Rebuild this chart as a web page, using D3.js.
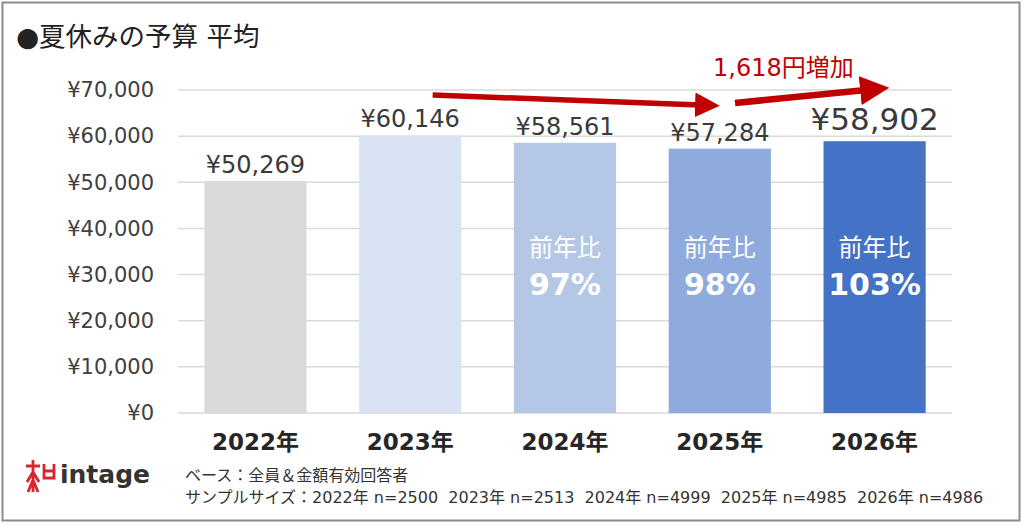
<!DOCTYPE html>
<html>
<head>
<meta charset="utf-8">
<script src="https://cdn.jsdelivr.net/npm/d3@7"></script>
<style>
  body { margin: 0; background: #fff; }
  text { font-family: "DejaVu Sans", "Noto Sans CJK JP", sans-serif; }
</style>
</head>
<body>
<div id="chart"></div>
<script>
// データ
var years = ["2022年", "2023年", "2024年", "2025年", "2026年"];
var budgets = [50269, 60146, 58561, 57284, 58902];
var ratios = [null, null, "97%", "98%", "103%"];
var barColors = ["#d9d9d9", "#dae3f3", "#b4c7e7", "#8faadc", "#4472c4"];
var yTicks = [0, 10000, 20000, 30000, 40000, 50000, 60000, 70000];
var sampleSizes = ["2022年 n=2500", "2023年 n=2513", "2024年 n=4999", "2025年 n=4985", "2026年 n=4986"];

var W = 1024, H = 526;
var svg = d3.select("#chart").append("svg")
    .attr("width", W).attr("height", H);

// 枠
svg.append("rect")
    .attr("x", 2.5).attr("y", 2.5)
    .attr("width", 1017).attr("height", 518)
    .attr("fill", "#fff").attr("stroke", "#8c8c8c").attr("stroke-width", 2);

// タイトル
svg.append("text")
    .attr("x", 16).attr("y", 46)
    .attr("font-size", 26.5).attr("fill", "#222")
    .attr("font-family", "'Noto Sans CJK JP', sans-serif")
    .text("●夏休みの予算 平均");

var x = d3.scaleBand().domain(years).range([178, 952]).paddingInner(0.34).paddingOuter(0.17);
var y = d3.scaleLinear().domain([0, 70000]).range([413, 90]);

// グリッド線
svg.selectAll(".grid").data(yTicks).enter().append("line")
    .attr("x1", 178).attr("x2", 952)
    .attr("y1", function(d) { return y(d); })
    .attr("y2", function(d) { return y(d); })
    .attr("stroke", "#d9d9d9").attr("stroke-width", 1.5);

// Y軸
var yAxis = svg.append("g")
    .attr("transform", "translate(157,0)")
    .call(d3.axisLeft(y).tickValues(yTicks).tickSize(0)
        .tickFormat(function(d) { return "¥" + d3.format(",")(d); }));
yAxis.select(".domain").remove();
yAxis.selectAll("text")
    .attr("font-size", 21).attr("fill", "#404040")
    .attr("font-family", "'DejaVu Sans', sans-serif");

// 棒
svg.selectAll(".bar").data(years).enter().append("rect")
    .attr("x", function(d) { return x(d); })
    .attr("y", function(d, i) { return y(budgets[i]); })
    .attr("width", x.bandwidth())
    .attr("height", function(d, i) { return y(0) - y(budgets[i]); })
    .attr("fill", function(d, i) { return barColors[i]; });

// 値ラベル
svg.selectAll(".val").data(years).enter().append("text")
    .attr("x", function(d) { return x(d) + x.bandwidth() / 2; })
    .attr("y", function(d, i) { return y(budgets[i]) - (i === 4 ? 11 : 8); })
    .attr("text-anchor", "middle")
    .attr("font-size", function(d, i) { return i === 4 ? 31 : 24; })
    .attr("fill", "#3a3a3a")
    .text(function(d, i) { return "¥" + d3.format(",")(budgets[i]); });

// 前年比
years.forEach(function(d, i) {
    if (!ratios[i]) return;
    var cx = x(d) + x.bandwidth() / 2;
    svg.append("text")
        .attr("x", cx).attr("y", 256)
        .attr("text-anchor", "middle")
        .attr("font-size", 24).attr("fill", "#fff")
        .attr("font-family", "'Noto Sans CJK JP', sans-serif")
        .text("前年比");
    svg.append("text")
        .attr("x", cx).attr("y", 295)
        .attr("text-anchor", "middle")
        .attr("font-size", 30).attr("font-weight", "bold").attr("fill", "#fff")
        .text(ratios[i]);
});

// X軸ラベル
var xAxis = svg.append("g")
    .attr("transform", "translate(0,413)")
    .call(d3.axisBottom(x).tickSize(0));
xAxis.select(".domain").remove();
xAxis.selectAll("text")
    .attr("dy", 0).attr("y", 37)
    .attr("font-size", 23).attr("font-weight", "bold").attr("fill", "#262626")
    .attr("font-family", "'DejaVu Sans', 'Noto Sans CJK JP', sans-serif");

// 矢印
var defs = svg.append("defs");
defs.append("marker")
    .attr("id", "arr").attr("viewBox", "0 0 10 10")
    .attr("refX", 2).attr("refY", 5)
    .attr("markerWidth", 4.5).attr("markerHeight", 4.5)
    .attr("orient", "auto")
    .append("path").attr("d", "M0,0 L10,5 L0,10 z").attr("fill", "#c00000");

svg.append("line")
    .attr("x1", x("2023年") + x.bandwidth() * 0.72).attr("y1", 95)
    .attr("x2", 700).attr("y2", 105)
    .attr("stroke", "#c00000").attr("stroke-width", 5.5)
    .attr("marker-end", "url(#arr)");
svg.append("line")
    .attr("x1", 735).attr("y1", 103)
    .attr("x2", 866).attr("y2", 90)
    .attr("stroke", "#c00000").attr("stroke-width", 6.5)
    .attr("marker-end", "url(#arr)");

svg.append("text")
    .attr("x", 713).attr("y", 76)
    .attr("font-size", 24).attr("fill", "#c00000")
    .text("1,618円増加");

// ロゴ
var logo = svg.append("g").attr("transform", "translate(24,458)");
logo.append("path")
    .attr("d", "M2,8 L16,8 M9,2 L9,34 M9,14 L3,24 M9,14 L15,24 M4,34 L9,22 L14,34 M20,6 L20,20 L30,20 L30,6 M20,13 L30,13")
    .attr("fill", "none").attr("stroke", "#d9262c").attr("stroke-width", 2.8);
logo.append("text")
    .attr("x", 36).attr("y", 25)
    .attr("font-size", 25).attr("font-weight", "bold").attr("fill", "#333")
    .text("intage");

// 注記
svg.append("text")
    .attr("x", 185).attr("y", 481)
    .attr("font-size", 16).attr("fill", "#333")
    .text("ベース：全員＆金額有効回答者");
svg.append("text")
    .attr("x", 185).attr("y", 503)
    .attr("font-size", 16).attr("fill", "#333")
    .attr("xml:space", "preserve")
    .text("サンプルサイズ：" + sampleSizes.join("  "));
</script>
</body>
</html>
